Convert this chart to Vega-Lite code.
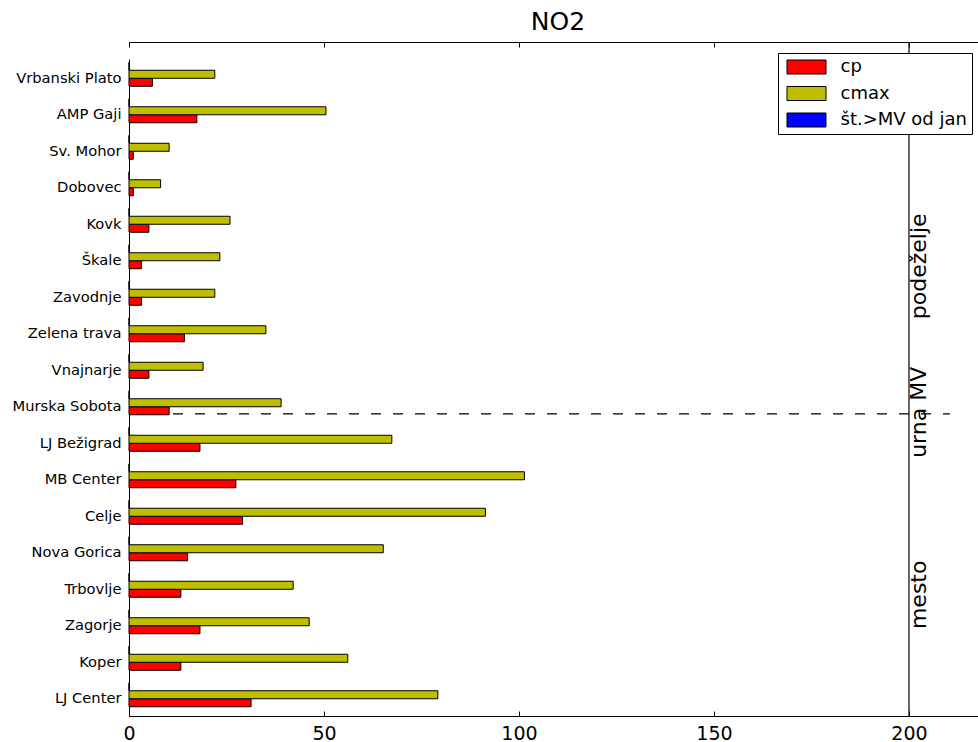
{
  "$schema": "https://vega.github.io/schema/vega-lite/v6.json",
  "width": 849,
  "height": 674,
  "autosize": "none",
  "padding": {"left": 129, "top": 42, "right": 0, "bottom": 26},
  "config": {
    "font": "DejaVu Sans",
    "view": {"stroke": null},
    "axis": {"grid": false, "domainColor": "black", "domainWidth": 1, "labelColor": "black", "tickColor": "black", "labelFont": "DejaVu Sans"}
  },
  "title": {"text": "NO2", "fontSize": 25, "fontWeight": "normal", "font": "DejaVu Sans", "color": "black", "offset": 6, "anchor": "middle", "dx": 4.5},
  "datasets": {
    "bars": [
      {"station": "Vrbanski Plato", "series": "cp", "value": 6},
      {"station": "Vrbanski Plato", "series": "cmax", "value": 22},
      {"station": "Vrbanski Plato", "series": "št.>MV od jan", "value": 0},
      {"station": "AMP Gaji", "series": "cp", "value": 17.4},
      {"station": "AMP Gaji", "series": "cmax", "value": 50.5},
      {"station": "AMP Gaji", "series": "št.>MV od jan", "value": 0},
      {"station": "Sv. Mohor", "series": "cp", "value": 1.1},
      {"station": "Sv. Mohor", "series": "cmax", "value": 10.3},
      {"station": "Sv. Mohor", "series": "št.>MV od jan", "value": 0},
      {"station": "Dobovec", "series": "cp", "value": 1.1},
      {"station": "Dobovec", "series": "cmax", "value": 8.1},
      {"station": "Dobovec", "series": "št.>MV od jan", "value": 0},
      {"station": "Kovk", "series": "cp", "value": 5.1},
      {"station": "Kovk", "series": "cmax", "value": 25.9},
      {"station": "Kovk", "series": "št.>MV od jan", "value": 0},
      {"station": "Škale", "series": "cp", "value": 3.2},
      {"station": "Škale", "series": "cmax", "value": 23.3},
      {"station": "Škale", "series": "št.>MV od jan", "value": 0},
      {"station": "Zavodnje", "series": "cp", "value": 3.2},
      {"station": "Zavodnje", "series": "cmax", "value": 22},
      {"station": "Zavodnje", "series": "št.>MV od jan", "value": 0},
      {"station": "Zelena trava", "series": "cp", "value": 14.2},
      {"station": "Zelena trava", "series": "cmax", "value": 35.1},
      {"station": "Zelena trava", "series": "št.>MV od jan", "value": 0},
      {"station": "Vnajnarje", "series": "cp", "value": 5.1},
      {"station": "Vnajnarje", "series": "cmax", "value": 19},
      {"station": "Vnajnarje", "series": "št.>MV od jan", "value": 0},
      {"station": "Murska Sobota", "series": "cp", "value": 10.3},
      {"station": "Murska Sobota", "series": "cmax", "value": 39},
      {"station": "Murska Sobota", "series": "št.>MV od jan", "value": 0},
      {"station": "LJ Bežigrad", "series": "cp", "value": 18.2},
      {"station": "LJ Bežigrad", "series": "cmax", "value": 67.4},
      {"station": "LJ Bežigrad", "series": "št.>MV od jan", "value": 0},
      {"station": "MB Center", "series": "cp", "value": 27.4},
      {"station": "MB Center", "series": "cmax", "value": 101.4},
      {"station": "MB Center", "series": "št.>MV od jan", "value": 0},
      {"station": "Celje", "series": "cp", "value": 29.1},
      {"station": "Celje", "series": "cmax", "value": 91.4},
      {"station": "Celje", "series": "št.>MV od jan", "value": 0},
      {"station": "Nova Gorica", "series": "cp", "value": 15},
      {"station": "Nova Gorica", "series": "cmax", "value": 65.2},
      {"station": "Nova Gorica", "series": "št.>MV od jan", "value": 0},
      {"station": "Trbovlje", "series": "cp", "value": 13.3},
      {"station": "Trbovlje", "series": "cmax", "value": 42.1},
      {"station": "Trbovlje", "series": "št.>MV od jan", "value": 0},
      {"station": "Zagorje", "series": "cp", "value": 18.2},
      {"station": "Zagorje", "series": "cmax", "value": 46.2},
      {"station": "Zagorje", "series": "št.>MV od jan", "value": 0},
      {"station": "Koper", "series": "cp", "value": 13.3},
      {"station": "Koper", "series": "cmax", "value": 56.1},
      {"station": "Koper", "series": "št.>MV od jan", "value": 0},
      {"station": "LJ Center", "series": "cp", "value": 31.3},
      {"station": "LJ Center", "series": "cmax", "value": 79.2},
      {"station": "LJ Center", "series": "št.>MV od jan", "value": 0}
    ],
    "notes": [
      {"station": "Škale", "label": "podeželje"},
      {"station": "Murska Sobota", "label": "urna MV"},
      {"station": "Trbovlje", "label": "mesto"}
    ],
    "limit": [
      {"station": "Murska Sobota", "x": 0, "x2": 210.5}
    ],
    "mv": [
      {"mv": 200}
    ]
  },
  "resolve": {"axis": {"x": "independent"}},
  "layer": [
    {
      "data": {"name": "limit"},
      "mark": {"type": "rule", "color": "black", "strokeWidth": 1.2, "strokeDash": [10, 12]},
      "encoding": {
        "x": {"field": "x", "type": "quantitative", "scale": {"domain": [0, 217.7], "nice": false, "zero": true},
              "axis": {"orient": "top", "labels": false, "title": null, "values": [0, 50, 100, 150, 200], "tickSize": -5, "domain": true}},
        "x2": {"field": "x2"},
        "y": {"field": "station", "type": "nominal", "bandPosition": 0.72,
              "sort": ["Vrbanski Plato", "AMP Gaji", "Sv. Mohor", "Dobovec", "Kovk", "Škale", "Zavodnje", "Zelena trava", "Vnajnarje", "Murska Sobota", "LJ Bežigrad", "MB Center", "Celje", "Nova Gorica", "Trbovlje", "Zagorje", "Koper", "LJ Center"],
              "scale": {"range": [17, 674], "paddingInner": 0, "paddingOuter": 0},
              "axis": {"title": null, "ticks": false, "labelFontSize": 14.7, "labelPadding": 8, "labelOffset": 1.5, "domain": true}}
      }
    },
    {
      "data": {"name": "bars"},
      "mark": {"type": "bar", "stroke": "black", "strokeWidth": 1, "opacity": 1},
      "encoding": {
        "x": {"field": "value", "type": "quantitative",
              "axis": {"orient": "bottom", "title": null, "values": [0, 50, 100, 150, 200], "labelFontSize": 19, "tickSize": -5, "labelPadding": 13, "labelFlush": false}},
        "y": {"field": "station", "type": "nominal",
              "sort": ["Vrbanski Plato", "AMP Gaji", "Sv. Mohor", "Dobovec", "Kovk", "Škale", "Zavodnje", "Zelena trava", "Vnajnarje", "Murska Sobota", "LJ Bežigrad", "MB Center", "Celje", "Nova Gorica", "Trbovlje", "Zagorje", "Koper", "LJ Center"],
              "scale": {"range": [17, 674], "paddingInner": 0, "paddingOuter": 0},
              "axis": {"title": null, "ticks": false, "labelFontSize": 14.7, "labelPadding": 8, "labelOffset": 1.5, "domain": true}},
        "yOffset": {"field": "series", "type": "nominal", "sort": ["št.>MV od jan", "cmax", "cp"],
                    "scale": {"domain": ["št.>MV od jan", "cmax", "cp"], "range": [3.25, 27.25], "paddingInner": 0, "paddingOuter": 0}},
        "color": {"field": "series", "type": "nominal",
                  "scale": {"domain": ["cp", "cmax", "št.>MV od jan"], "range": ["#ff0000", "#bfbf00", "#0000ff"]},
                  "legend": {"orient": "none", "legendX": 649, "legendY": 11, "title": null,
                             "symbolType": "M-2.786,-1H2.786V1H-2.786Z", "symbolSize": 196,
                             "symbolStrokeColor": "black", "symbolStrokeWidth": 1, "symbolOpacity": 1,
                             "symbolOffset": 14.5, "labelOffset": 25, "labelFontSize": 18, "labelColor": "black",
                             "rowPadding": 8.5, "padding": 5, "strokeColor": "black", "fillColor": "white", "cornerRadius": 0}}
      }
    },
    {
      "data": {"name": "mv"},
      "mark": {"type": "rule", "color": "black", "strokeWidth": 1.2},
      "encoding": {"x": {"field": "mv", "type": "quantitative", "axis": null}}
    },
    {
      "data": {"name": "notes"},
      "mark": {"type": "text", "angle": 270, "align": "center", "baseline": "top", "fontSize": 22, "color": "black"},
      "encoding": {
        "x": {"datum": 200, "axis": null},
        "y": {"field": "station", "type": "nominal", "bandPosition": 0.68,
              "sort": ["Vrbanski Plato", "AMP Gaji", "Sv. Mohor", "Dobovec", "Kovk", "Škale", "Zavodnje", "Zelena trava", "Vnajnarje", "Murska Sobota", "LJ Bežigrad", "MB Center", "Celje", "Nova Gorica", "Trbovlje", "Zagorje", "Koper", "LJ Center"],
              "scale": {"range": [17, 674], "paddingInner": 0, "paddingOuter": 0},
              "axis": {"title": null, "ticks": false, "labelFontSize": 14.7, "labelPadding": 8, "labelOffset": 1.5, "domain": true}},
        "text": {"field": "label"}
      }
    }
  ]
}
